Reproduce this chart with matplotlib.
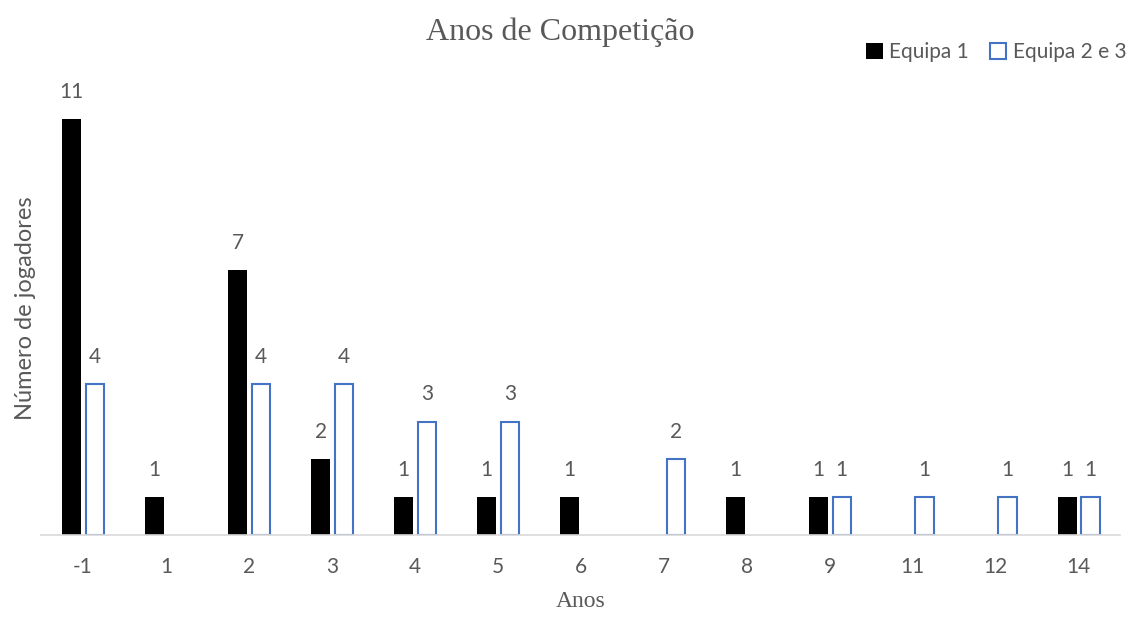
import matplotlib
matplotlib.use('Agg')
import matplotlib.pyplot as plt
import numpy as np

anos = ['-1', '1', '2', '3', '4', '5', '6', '7', '8', '9', '11', '12', '14']
equipa1 = [11, 1, 7, 2, 1, 1, 1, 0, 1, 1, 0, 0, 1]
equipa23 = [4, 0, 4, 4, 3, 3, 0, 2, 0, 1, 1, 1, 1]

grey = '#595959'
blue = '#4472C4'
sans = ['Lato', 'DejaVu Sans']
serif = ['Liberation Serif', 'DejaVu Serif']

fig = plt.figure(figsize=[11.3, 6.17], dpi=100)
ax = fig.add_axes([41.5 / 1130, 1 - 535 / 617, (1120 - 41.5) / 1130, (535 - 81) / 617])

x = np.arange(len(anos))
w = 0.23
b1 = ax.bar(x - 0.135, equipa1, w, color='black', label='Equipa 1')
b2 = ax.bar(x + 0.145, equipa23, w - 0.01, facecolor='white', edgecolor=blue,
            linewidth=1.5, label='Equipa 2 e 3')

# hide empty bars and label the rest
for bars, vals in ((b1, equipa1), (b2, equipa23)):
    for r, v in zip(bars, vals):
        if v == 0:
            r.set_visible(False)
            continue
        ax.text(r.get_x() + r.get_width() / 2, v + 0.45, str(v), ha='center',
                va='bottom', fontsize=15, color=grey, family=sans)

ax.set_xlim(-0.5, len(anos) - 0.5)
ax.set_ylim(0, 12)
ax.set_xticks(x)
ax.set_xticklabels(anos, fontsize=15, color=grey, family=sans)
ax.set_yticks([])
ax.tick_params(axis='x', length=0, pad=16)
for s in ['top', 'right', 'left']:
    ax.spines[s].set_visible(False)
ax.spines['bottom'].set_color('#D9D9D9')
ax.spines['bottom'].set_linewidth(1.2)

ax.set_xlabel('Anos', fontsize=17, color=grey, family=serif, labelpad=10)
ax.set_ylabel('Número de jogadores', fontsize=17, color=grey, family=sans, labelpad=4)
fig.text(560 / 1130, 1 - 32 / 617, 'Anos de Competição', ha='center', va='center',
         fontsize=23, color=grey, family=serif)

leg = fig.legend(handles=[b1, b2], loc='center right', bbox_to_anchor=(1145 / 1130, 1 - 52 / 617),
                 ncol=2, frameon=False, handlelength=0.8, handleheight=0.8,
                 handletextpad=0.3, columnspacing=1.0, prop={'family': sans, 'size': 15})
for t in leg.get_texts():
    t.set_color(grey)

plt.savefig('out.png', dpi=100)
